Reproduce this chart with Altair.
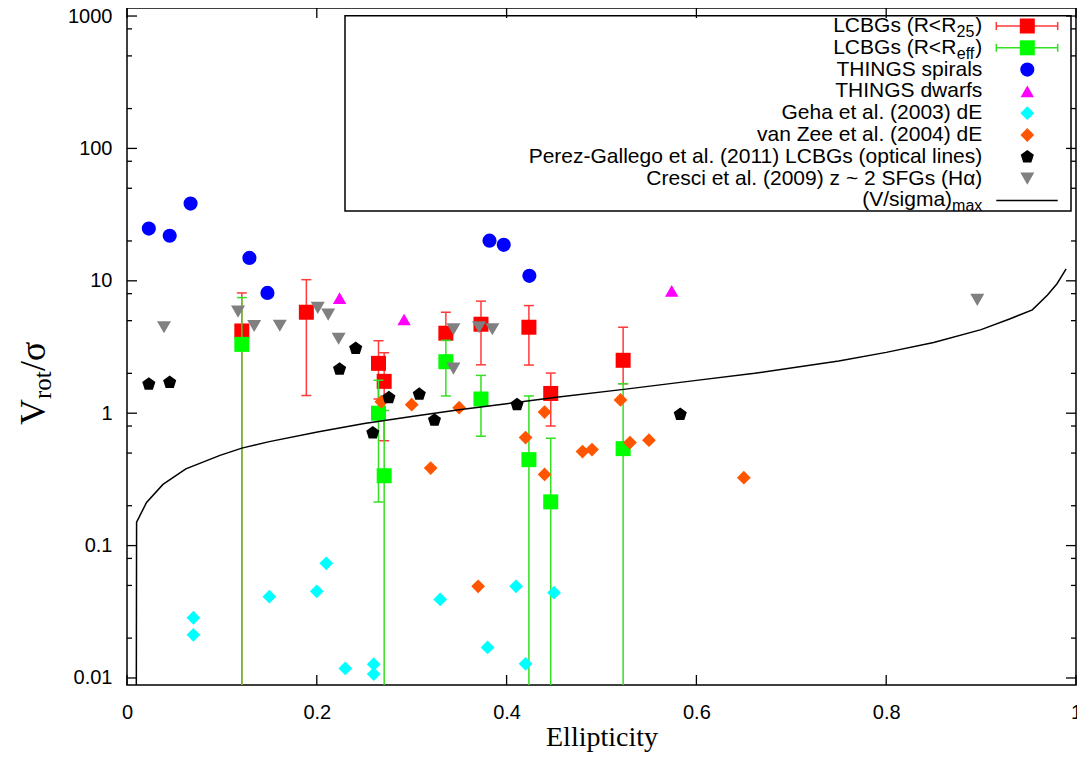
import altair as alt
import pandas as pd

# ---------------- data ----------------
# LCBGs (R<R25): ellipticity, Vrot/sigma, lower and upper error bounds
r25_e = [0.121, 0.189, 0.265, 0.271, 0.336, 0.373, 0.4235, 0.4465, 0.5228]
r25_v = [4.18, 5.79, 2.38, 1.74, 4.02, 4.70, 4.46, 1.41, 2.51]
r25_lo = [0.001, 1.36, 1.28, 0.62, 3.55, 2.32, 2.31, 0.80, 1.67]
r25_hi = [8.1, 10.2, 3.53, 2.86, 5.79, 7.02, 6.5, 2.01, 4.46]

# LCBGs (R<Reff)
reff_e = [0.121, 0.265, 0.271, 0.336, 0.373, 0.4235, 0.4465, 0.5228]
reff_v = [3.31, 1.00, 0.337, 2.45, 1.28, 0.446, 0.214, 0.54]
reff_lo = [0.001, 0.213, 0.001, 1.35, 0.67, 0.001, 0.001, 0.001]
reff_hi = [7.47, 1.77, 1.05, 3.55, 1.93, 1.35, 0.647, 1.67]

# THINGS spirals
spir_e = [0.023, 0.045, 0.067, 0.129, 0.148, 0.382, 0.397, 0.424]
spir_v = [24.8, 21.9, 38.3, 14.9, 8.1, 20.1, 18.7, 10.9]

# THINGS dwarfs
dwarf_e = [0.224, 0.292, 0.574]
dwarf_v = [7.4, 5.1, 8.4]

# Geha et al. (2003) dE
geha_e = [0.070, 0.070, 0.150, 0.200, 0.210, 0.230, 0.260, 0.260, 0.330, 0.380, 0.410, 0.420, 0.450]
geha_v = [0.0285, 0.0212, 0.0411, 0.0451, 0.0734, 0.0118, 0.0127, 0.0107, 0.0392, 0.0170, 0.0492, 0.0128, 0.0441]

# van Zee et al. (2004) dE
vz_e = [0.268, 0.300, 0.320, 0.350, 0.370, 0.420, 0.440, 0.440, 0.480, 0.490, 0.520, 0.530, 0.550, 0.650]
vz_v = [1.22, 1.16, 0.385, 1.10, 0.0492, 0.655, 1.02, 0.345, 0.513, 0.531, 1.26, 0.60, 0.625, 0.326]

# Perez-Gallego et al. (2011) LCBGs
pg_e = [0.023, 0.045, 0.224, 0.241, 0.259, 0.276, 0.308, 0.324, 0.411, 0.583]
pg_v = [1.66, 1.71, 2.15, 3.09, 0.71, 1.31, 1.39, 0.885, 1.16, 0.98]

# Cresci et al. (2009) z~2 SFGs
cr_e = [0.039, 0.117, 0.134, 0.161, 0.201, 0.212, 0.223, 0.344, 0.344, 0.371, 0.385, 0.896]
cr_v = [4.46, 5.85, 4.56, 4.58, 6.24, 5.55, 3.65, 4.31, 2.17, 4.46, 4.31, 7.18]

# (V/sigma)max curve
curve_e = [0.0094, 0.0101, 0.0206, 0.0379, 0.062, 0.098, 0.121, 0.150, 0.202, 0.250, 0.300,
           0.350, 0.400, 0.4525, 0.5256, 0.600, 0.6614, 0.750, 0.800, 0.850, 0.900, 0.930,
           0.954, 0.970, 0.980, 0.9896]
curve_v = [0.0001, 0.150, 0.212, 0.290, 0.380, 0.480, 0.545, 0.610, 0.725, 0.835, 0.945,
           1.060, 1.180, 1.320, 1.520, 1.770, 2.000, 2.480, 2.880, 3.420, 4.280, 5.150,
           6.030, 7.800, 9.500, 12.300]

x_ticks = [0, 0.2, 0.4, 0.6, 0.8, 1.0]
y_ticks = [0.01, 0.1, 1, 10, 100, 1000]
y_minor = [0.02, 0.05, 0.08, 0.2, 0.5, 0.8, 2, 5, 8, 20, 50, 80, 200, 500, 800]

legend_labels = [
    ("LCBGs (R<R", "25", ")"),
    ("LCBGs (R<R", "eff", ")"),
    ("THINGS spirals", "", ""),
    ("THINGS dwarfs", "", ""),
    ("Geha et al. (2003) dE", "", ""),
    ("van Zee et al. (2004) dE", "", ""),
    ("Perez-Gallego et al. (2011) LCBGs (optical lines)", "", ""),
    ("Cresci et al. (2009) z ~ 2 SFGs (H\u03b1)", "", ""),
    ("(V/sigma)", "max", ""),
]

# ---------------- layout / style ----------------
W, H = 949, 677
PAD_L, PAD_T, PAD_R, PAD_B = 119, 0, 1, 68
SANS = "Liberation Sans"
SERIF = "Liberation Serif"
RED, RED_BAR = "#ff0000", "#ff3a3a"
GREEN, GREEN_BAR = "#00ff00", "#33e022"
BLUE, MAGENTA, CYAN, ORANGE, GRAY = "#0000ff", "#ff00ff", "#00ffff", "#ff5500", "#808080"
PENTAGON = "M0,-1L0.951,-0.309L0.588,0.809L-0.588,0.809L-0.951,-0.309Z"

xs = alt.Scale(domain=[0, 1], nice=False, zero=False)
ys = alt.Scale(type="log", domain=[0.00885, 1150], nice=False)

xaxis = alt.Axis(values=x_ticks, format="~g", ticks=False, tickSize=0, domain=False, grid=False,
                 labelFont=SANS, labelFontSize=20, labelColor="black", labelPadding=17,
                 labelFlush=False, labelOverlap=False,
                 title="Ellipticity", titleFont=SERIF, titleFontSize=28, titleFontWeight="normal",
                 titleColor="black", titlePadding=1)
yaxis = alt.Axis(values=y_ticks, format="~g", ticks=False, tickSize=0, domain=False, grid=False,
                 labelFont=SANS, labelFontSize=20, labelColor="black", labelPadding=15,
                 labelFlush=False, labelOverlap=False, title=None)


def X(f):
    return alt.X(f + ":Q", scale=xs, axis=xaxis)


def Y(f):
    return alt.Y(f + ":Q", scale=ys, axis=yaxis)


def points(e, v, shape, color, size):
    df = pd.DataFrame({"e": e, "v": v})
    return alt.Chart(df).mark_point(shape=shape, filled=True, size=size, color=color,
                                    opacity=1, strokeWidth=0, clip=True).encode(x=X("e"), y=Y("v"))


def errorbars(e, lo, hi, color):
    df = pd.DataFrame({"e": e, "lo": lo, "hi": hi})
    base = alt.Chart(df)
    rule = base.mark_rule(color=color, strokeWidth=1.5, clip=True).encode(
        x=X("e"), y=Y("lo"), y2="hi:Q")
    cap_lo = base.mark_tick(orient="horizontal", size=10, thickness=1.5, color=color,
                            opacity=1, clip=True).encode(x=X("e"), y=Y("lo"))
    cap_hi = base.mark_tick(orient="horizontal", size=10, thickness=1.5, color=color,
                            opacity=1, clip=True).encode(x=X("e"), y=Y("hi"))
    return [rule, cap_lo, cap_hi]


one = pd.DataFrame({"k": [0]})


def txt(s, x, y, size, font=SANS, align="right", baseline="middle", angle=0):
    kw = dict(font=font, fontSize=size, align=align, baseline=baseline, color="black", text=s)
    if angle:
        kw["angle"] = angle
    return alt.Chart(one).mark_text(**kw).encode(x=alt.value(x), y=alt.value(y))


def sym(shape, color, size, x, y):
    return alt.Chart(one).mark_point(shape=shape, filled=True, size=size, color=color,
                                     opacity=1, strokeWidth=0).encode(x=alt.value(x), y=alt.value(y))


def seg(x1, y1, x2, y2, color, width=1.5):
    return alt.Chart(one).mark_rule(color=color, strokeWidth=width).encode(
        x=alt.value(x1), y=alt.value(y1), x2=alt.value(x2), y2=alt.value(y2))


layers = []
# data series, in the reference's drawing order
layers += errorbars(r25_e, r25_lo, r25_hi, RED_BAR)
layers.append(points(r25_e, r25_v, "square", RED, 225))
layers += errorbars(reff_e, reff_lo, reff_hi, GREEN_BAR)
layers.append(points(reff_e, reff_v, "square", GREEN, 225))
layers.append(points(spir_e, spir_v, "circle", BLUE, 200))
layers.append(points(dwarf_e, dwarf_v, "triangle-up", MAGENTA, 180))
layers.append(points(geha_e, geha_v, "diamond", CYAN, 190))
layers.append(points(vz_e, vz_v, "diamond", ORANGE, 190))
layers.append(points(pg_e, pg_v, PENTAGON, "black", 190))
layers.append(points(cr_e, cr_v, "triangle-down", GRAY, 196))

curve_df = pd.DataFrame({"e": curve_e, "v": curve_v})
layers.append(alt.Chart(curve_df).mark_line(color="black", strokeWidth=1.5, clip=True).encode(
    x=X("e"), y=Y("v"), order="e:Q"))

# inward ticks on all four sides
xt = alt.Chart(pd.DataFrame({"t": x_ticks}))
layers.append(xt.mark_rule(color="black", strokeWidth=1.3).encode(x=X("t"), y=alt.value(H), y2=alt.value(H - 10)))
layers.append(xt.mark_rule(color="black", strokeWidth=1.3).encode(x=X("t"), y=alt.value(0), y2=alt.value(10)))
yt = alt.Chart(pd.DataFrame({"t": y_ticks}))
layers.append(yt.mark_rule(color="black", strokeWidth=1.3).encode(y=Y("t"), x=alt.value(0), x2=alt.value(10)))
layers.append(yt.mark_rule(color="black", strokeWidth=1.3).encode(y=Y("t"), x=alt.value(W), x2=alt.value(W - 10)))
ym = alt.Chart(pd.DataFrame({"t": y_minor}))
layers.append(ym.mark_rule(color="black", strokeWidth=1.3).encode(y=Y("t"), x=alt.value(0), x2=alt.value(5)))
layers.append(ym.mark_rule(color="black", strokeWidth=1.3).encode(y=Y("t"), x=alt.value(W), x2=alt.value(W - 5)))

# legend box
layers.append(alt.Chart(one).mark_rect(fillOpacity=0, stroke="black", strokeWidth=1.5).encode(
    x=alt.value(218), x2=alt.value(944), y=alt.value(7.7), y2=alt.value(203)))

# legend entries
TX = 855.3      # right edge of label text
SX = 900.3      # symbol centre
BX1, BX2 = 869.3, 930.7
rows = [18 + 21.8 * i for i in range(9)]
for (main, sub, tail), ry in zip(legend_labels, rows):
    if sub == "":
        layers.append(txt(main, TX, ry, 21))
    elif tail:
        layers.append(txt(tail, TX, ry, 21))
        layers.append(txt(sub, TX - 8.0, ry + 6, 16))
        layers.append(txt(main, TX - 8.0 - 18.0, ry, 21))
    else:
        layers.append(txt(sub, TX, ry + 6, 16))
        layers.append(txt(main, TX - 30.2, ry, 21))

for i, (bar, col) in enumerate([(RED_BAR, RED), (GREEN_BAR, GREEN)]):
    ry = rows[i]
    layers.append(seg(BX1, ry, BX2, ry, bar))
    layers.append(seg(BX1, ry - 4, BX1, ry + 4, bar))
    layers.append(seg(BX2, ry - 4, BX2, ry + 4, bar))
    layers.append(sym("square", col, 225, SX, ry))
layers.append(sym("circle", BLUE, 200, SX, rows[2]))
layers.append(sym("triangle-up", MAGENTA, 180, SX, rows[3]))
layers.append(sym("diamond", CYAN, 190, SX, rows[4]))
layers.append(sym("diamond", ORANGE, 190, SX, rows[5]))
layers.append(sym(PENTAGON, "black", 190, SX, rows[6]))
layers.append(sym("triangle-down", GRAY, 196, SX, rows[7]))
layers.append(seg(BX1, rows[8], BX2, rows[8], "black"))

# y-axis title V_rot / sigma (rotated pieces)
layers.append(txt("V", 45 - 127, 425 - 8, 36, font=SERIF, align="left", baseline="alphabetic", angle=270))
layers.append(txt("rot", 51 - 127, 399 - 8, 25, font=SERIF, align="left", baseline="alphabetic", angle=270))
layers.append(txt("/\u03c3", 45 - 127, 371 - 8, 36, font=SERIF, align="left", baseline="alphabetic", angle=270))

chart = alt.layer(*layers).properties(
    width=W, height=H,
    autosize=alt.AutoSizeParams(type="none"),
    padding={"left": PAD_L, "top": PAD_T, "right": PAD_R, "bottom": PAD_B},
    background="white",
).configure_view(stroke="black", strokeWidth=1.5)

chart.save("out.html", embed_options={"renderer": "svg", "actions": False})
